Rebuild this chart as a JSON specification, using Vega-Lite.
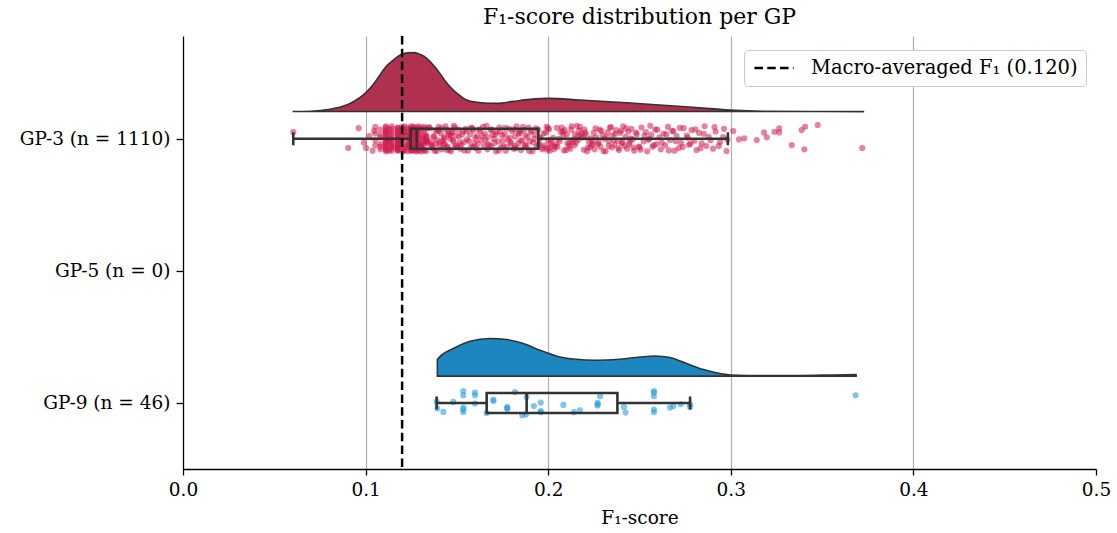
{
"$schema": "https://vega.github.io/schema/vega-lite/v6.json",
"width": 913, "height": 433,
"autosize": {"type": "none"},
"padding": {"left": 183, "top": 36, "right": 21, "bottom": 64},
"config": {"font": "DejaVu Serif", "view": {"stroke": null},
 "axis": {"labelFont": "DejaVu Serif", "titleFont": "DejaVu Serif", "labelColor": "#000000", "titleColor": "#000000", "domainColor": "#000000", "tickColor": "#000000", "labelFontSize": 18.5, "titleFontSize": 18.5, "titleFontWeight": "normal", "domainWidth": 1.3, "tickWidth": 1.3, "labelLimit": 400},
 "legend": {"labelFont": "DejaVu Serif"}},
"title": {"text": "F₁-score distribution per GP", "font": "DejaVu Serif", "fontSize": 22, "fontWeight": "normal", "color": "#000000", "anchor": "middle", "offset": 6},
"datasets": {
"c3": [{"f":0.0600,"t":-0.206},{"f":0.0700,"t":-0.208},{"f":0.0805,"t":-0.223},{"f":0.0850,"t":-0.236},{"f":0.0896,"t":-0.255},{"f":0.0940,"t":-0.286},{"f":0.0986,"t":-0.331},{"f":0.1040,"t":-0.407},{"f":0.1079,"t":-0.483},{"f":0.1110,"t":-0.543},{"f":0.1152,"t":-0.596},{"f":0.1199,"t":-0.639},{"f":0.1230,"t":-0.650},{"f":0.1267,"t":-0.652},{"f":0.1300,"t":-0.638},{"f":0.1335,"t":-0.609},{"f":0.1370,"t":-0.558},{"f":0.1407,"t":-0.495},{"f":0.1440,"t":-0.430},{"f":0.1480,"t":-0.369},{"f":0.1520,"t":-0.323},{"f":0.1553,"t":-0.293},{"f":0.1600,"t":-0.278},{"f":0.1650,"t":-0.271},{"f":0.1718,"t":-0.268},{"f":0.1809,"t":-0.283},{"f":0.1900,"t":-0.298},{"f":0.2003,"t":-0.306},{"f":0.2174,"t":-0.293},{"f":0.2430,"t":-0.273},{"f":0.2795,"t":-0.238},{"f":0.2996,"t":-0.217},{"f":0.3200,"t":-0.208},{"f":0.3500,"t":-0.206},{"f":0.3726,"t":-0.205}],
"c9": [{"f":0.1393,"t":1.797},{"f":0.1393,"t":1.671},{"f":0.1480,"t":1.588},{"f":0.1572,"t":1.533},{"f":0.1681,"t":1.512},{"f":0.1773,"t":1.520},{"f":0.1864,"t":1.550},{"f":0.1955,"t":1.601},{"f":0.2047,"t":1.646},{"f":0.2138,"t":1.667},{"f":0.2266,"t":1.677},{"f":0.2393,"t":1.669},{"f":0.2503,"t":1.652},{"f":0.2585,"t":1.644},{"f":0.2667,"t":1.656},{"f":0.2758,"t":1.702},{"f":0.2850,"t":1.747},{"f":0.2941,"t":1.777},{"f":0.3000,"t":1.788},{"f":0.3196,"t":1.792},{"f":0.3379,"t":1.792},{"f":0.3560,"t":1.788},{"f":0.3686,"t":1.785}],
"box": [{"g":"GP-3","c":0,"lo":0.0604,"q1":0.1247,"med":0.1280,"q3":0.1946,"hi":0.2984},{"g":"GP-9","c":2,"lo":0.1389,"q1":0.1663,"med":0.1882,"q3":0.2379,"hi":0.2777}],
"p9": [{"f":0.1393,"y":2.042},{"f":0.1426,"y":2.068},{"f":0.1480,"y":1.992},{"f":0.1535,"y":1.911},{"f":0.1535,"y":1.942},{"f":0.1535,"y":2.035},{"f":0.1535,"y":2.068},{"f":0.1599,"y":1.921},{"f":0.1599,"y":1.942},{"f":0.1599,"y":2.005},{"f":0.1663,"y":2.076},{"f":0.1700,"y":1.974},{"f":0.1700,"y":1.985},{"f":0.1776,"y":2.030},{"f":0.1776,"y":2.045},{"f":0.1818,"y":1.917},{"f":0.1858,"y":2.093},{"f":0.1882,"y":1.955},{"f":0.1878,"y":2.088},{"f":0.1922,"y":2.023},{"f":0.1959,"y":1.997},{"f":0.1959,"y":2.061},{"f":0.2083,"y":2.015},{"f":0.2141,"y":2.070},{"f":0.2174,"y":2.055},{"f":0.2271,"y":2.000},{"f":0.2271,"y":2.010},{"f":0.2284,"y":1.949},{"f":0.2415,"y":2.030},{"f":0.2424,"y":2.073},{"f":0.2579,"y":1.911},{"f":0.2579,"y":1.921},{"f":0.2579,"y":1.949},{"f":0.2579,"y":2.050},{"f":0.2579,"y":2.070},{"f":0.2667,"y":2.035},{"f":0.2685,"y":2.025},{"f":0.2726,"y":2.010},{"f":0.2777,"y":2.010},{"f":0.3684,"y":1.942},{"f":0.1389,"y":1.990},{"f":0.1535,"y":2.050},{"f":0.1776,"y":2.040},{"f":0.1959,"y":2.070},{"f":0.2270,"y":2.020},{"f":0.2777,"y":2.030}],
"p3": [{"f":0.0604,"y":-0.05},{"f":0.0905,"y":0.07},
{"f":0.0962,"y":-0.08},{"f":0.0991,"y":0.03},{"f":0.1003,"y":0.07},{"f":0.1020,"y":-0.02},{"f":0.1038,"y":0.09},{"f":0.1047,"y":-0.06},
{"f":0.1053,"y":0.01},{"f":0.1053,"y":-0.09},{"f":0.1053,"y":0.05},{"f":0.1053,"y":-0.04},
{"f":0.1081,"y":0.08},{"f":0.1081,"y":-0.01},{"f":0.1081,"y":0.04},{"f":0.1081,"y":-0.07},{"f":0.1081,"y":0.06},{"f":0.1081,"y":-0.03},
{"f":0.1111,"y":0.0},{"f":0.1111,"y":0.095},{"f":0.1111,"y":-0.05},{"f":0.1111,"y":0.02},{"f":0.1111,"y":-0.085},{"f":0.1111,"y":0.065},{"f":0.1111,"y":-0.025},{"f":0.1111,"y":0.045},{"f":0.1111,"y":-0.065},{"f":0.1111,"y":0.015},{"f":0.1111,"y":0.085},{"f":0.1111,"y":-0.045},{"f":0.1111,"y":0.035},{"f":0.1111,"y":-0.095},{"f":0.1111,"y":0.055},{"f":0.1111,"y":-0.015},{"f":0.1111,"y":0.075},{"f":0.1111,"y":-0.055},
{"f":0.1128,"y":0.025},{"f":0.1128,"y":-0.075},{"f":0.1128,"y":0.005},{"f":0.1128,"y":0.09},{"f":0.1128,"y":-0.035},
{"f":0.1143,"y":0.06},{"f":0.1143,"y":-0.035},{"f":0.1143,"y":0.09},{"f":0.1143,"y":0.005},{"f":0.1143,"y":-0.075},{"f":0.1143,"y":0.025},{"f":0.1143,"y":-0.055},{"f":0.1143,"y":0.075},{"f":0.1143,"y":-0.015},{"f":0.1143,"y":0.055},{"f":0.1143,"y":-0.095},{"f":0.1143,"y":0.035},
{"f":0.1176,"y":-0.08},{"f":0.1176,"y":0.07},{"f":0.1176,"y":0.09},{"f":0.1176,"y":0.01},{"f":0.1176,"y":0.05},{"f":0.1176,"y":0.08},{"f":0.1176,"y":0.04},{"f":0.1176,"y":0.06},{"f":0.1176,"y":0.0},{"f":0.1176,"y":-0.05},{"f":0.1176,"y":-0.085},{"f":0.1176,"y":-0.025},{"f":0.1176,"y":-0.065},{"f":0.1176,"y":0.085},{"f":0.1176,"y":0.035},{"f":0.1176,"y":0.055},{"f":0.1176,"y":0.075},{"f":0.1176,"y":0.025},{"f":0.1176,"y":0.005},{"f":0.1176,"y":-0.035},{"f":0.1176,"y":-0.02},{"f":0.1176,"y":-0.06},
{"f":0.1200,"y":-0.09},{"f":0.1200,"y":-0.04},{"f":0.1200,"y":-0.01},{"f":0.1200,"y":-0.07},{"f":0.1200,"y":-0.03},{"f":0.1200,"y":0.095},{"f":0.1200,"y":0.02},{"f":0.1200,"y":0.065},{"f":0.1200,"y":0.045},{"f":0.1200,"y":0.015},
{"f":0.1212,"y":-0.045},{"f":0.1212,"y":-0.095},{"f":0.1212,"y":-0.015},{"f":0.1212,"y":-0.055},{"f":0.1212,"y":-0.075},{"f":0.1212,"y":0.09},{"f":0.1212,"y":0.06},{"f":0.1212,"y":0.085},
{"f":0.1233,"y":0.04},{"f":0.1233,"y":-0.07},{"f":0.1233,"y":0.06},{"f":0.1233,"y":-0.03},{"f":0.1233,"y":0.0},{"f":0.1233,"y":0.095},{"f":0.1233,"y":-0.05},{"f":0.1233,"y":0.02},{"f":0.1233,"y":-0.085},{"f":0.1233,"y":0.065},{"f":0.1233,"y":-0.025},{"f":0.1233,"y":0.045},
{"f":0.1250,"y":-0.025},{"f":0.1250,"y":0.045},{"f":0.1250,"y":-0.065},{"f":0.1250,"y":0.015},{"f":0.1250,"y":0.085},{"f":0.1250,"y":-0.045},{"f":0.1250,"y":0.035},{"f":0.1250,"y":-0.095},{"f":0.1250,"y":0.055},{"f":0.1250,"y":-0.015},{"f":0.1250,"y":0.075},{"f":0.1250,"y":-0.055},{"f":0.1250,"y":0.025},{"f":0.1250,"y":-0.075},{"f":0.1250,"y":0.005},{"f":0.1250,"y":0.09},{"f":0.1250,"y":-0.035},{"f":0.1250,"y":0.06},
{"f":0.1262,"y":-0.04},{"f":0.1262,"y":0.05},{"f":0.1262,"y":-0.09},{"f":0.1262,"y":0.01},{"f":0.1262,"y":-0.06},{"f":0.1262,"y":0.09},{"f":0.1262,"y":-0.02},{"f":0.1262,"y":0.07},{"f":0.1262,"y":0.03},{"f":0.1262,"y":-0.08},
{"f":0.1277,"y":0.06},{"f":0.1277,"y":-0.03},{"f":0.1277,"y":0.0},{"f":0.1277,"y":0.095},{"f":0.1277,"y":-0.05},{"f":0.1277,"y":0.02},{"f":0.1277,"y":-0.085},{"f":0.1277,"y":0.065},{"f":0.1277,"y":-0.025},{"f":0.1277,"y":0.045},{"f":0.1277,"y":-0.065},{"f":0.1277,"y":0.015},{"f":0.1277,"y":0.085},{"f":0.1277,"y":-0.045},
{"f":0.1290,"y":0.035},{"f":0.1290,"y":-0.095},{"f":0.1290,"y":0.055},{"f":0.1290,"y":-0.015},{"f":0.1290,"y":0.075},{"f":0.1290,"y":-0.055},{"f":0.1290,"y":0.025},{"f":0.1290,"y":-0.075},{"f":0.1290,"y":0.005},{"f":0.1290,"y":0.09},{"f":0.1290,"y":-0.035},{"f":0.1290,"y":0.06},
{"f":0.1304,"y":0.07},{"f":0.1304,"y":-0.06},{"f":0.1304,"y":0.05},{"f":0.1304,"y":-0.01},{"f":0.1304,"y":0.06},{"f":0.1304,"y":0.095},{"f":0.1304,"y":-0.085},{"f":0.1304,"y":0.045},
{"f":0.1320,"y":0.03},{"f":0.1320,"y":0.09},{"f":0.1320,"y":-0.09},{"f":0.1320,"y":0.08},{"f":0.1320,"y":-0.07},{"f":0.1320,"y":0.0},{"f":0.1320,"y":0.02},{"f":0.1320,"y":-0.025},
{"f":0.1333,"y":0.015},{"f":0.1333,"y":0.035},{"f":0.1333,"y":-0.015},{"f":0.1333,"y":0.025},{"f":0.1333,"y":0.09},{"f":0.1333,"y":-0.08},{"f":0.1333,"y":-0.02},{"f":0.1333,"y":0.01},
{"f":0.1352,"y":-0.08},{"f":0.1361,"y":0.03},{"f":0.1368,"y":0.07},{"f":0.1375,"y":-0.02},{"f":0.1379,"y":0.09},{"f":0.1384,"y":-0.06},{"f":0.1392,"y":0.01},{"f":0.1400,"y":-0.09},{"f":0.1405,"y":0.05},{"f":0.1412,"y":-0.04},{"f":0.1418,"y":0.08},{"f":0.1429,"y":-0.01},{"f":0.1434,"y":0.04},{"f":0.1441,"y":-0.07},{"f":0.1449,"y":0.06},{"f":0.1455,"y":-0.03},{"f":0.1463,"y":0.0},{"f":0.1468,"y":0.095},{"f":0.1475,"y":-0.05},{"f":0.1481,"y":0.02},{"f":0.1488,"y":-0.085},{"f":0.1493,"y":0.065},{"f":0.1497,"y":-0.025},{"f":0.1358,"y":0.045},{"f":0.1396,"y":-0.065},{"f":0.1422,"y":0.015},{"f":0.1446,"y":0.085},{"f":0.1471,"y":-0.045},{"f":0.1386,"y":0.035},{"f":0.1438,"y":-0.095},
{"f":0.1503,"y":0.055},{"f":0.1512,"y":-0.015},{"f":0.1519,"y":0.075},{"f":0.1533,"y":-0.055},{"f":0.1537,"y":0.025},{"f":0.1548,"y":-0.075},{"f":0.1556,"y":0.005},{"f":0.1561,"y":0.09},{"f":0.1572,"y":-0.035},{"f":0.1579,"y":0.06},{"f":0.1584,"y":-0.08},{"f":0.1597,"y":0.03},{"f":0.1603,"y":0.07},{"f":0.1609,"y":-0.02},{"f":0.1618,"y":0.09},{"f":0.1626,"y":-0.06},{"f":0.1631,"y":0.01},{"f":0.1643,"y":-0.09},{"f":0.1648,"y":0.05},{"f":0.1652,"y":-0.04},{"f":0.1667,"y":0.08},{"f":0.1667,"y":-0.01},{"f":0.1671,"y":0.04},{"f":0.1684,"y":-0.07},{"f":0.1689,"y":0.06},{"f":0.1695,"y":-0.03},{"f":0.1702,"y":0.0},{"f":0.1714,"y":0.095},{"f":0.1719,"y":-0.05},{"f":0.1726,"y":0.02},{"f":0.1733,"y":-0.085},{"f":0.1741,"y":0.065},{"f":0.1748,"y":-0.025},{"f":0.1525,"y":0.045},{"f":0.1590,"y":-0.065},
{"f":0.1754,"y":0.06},{"f":0.1762,"y":-0.035},{"f":0.1768,"y":0.09},{"f":0.1779,"y":0.005},{"f":0.1786,"y":-0.075},{"f":0.1792,"y":0.025},{"f":0.1805,"y":-0.055},{"f":0.1811,"y":0.075},{"f":0.1818,"y":-0.015},{"f":0.1818,"y":0.055},{"f":0.1827,"y":-0.095},{"f":0.1836,"y":0.035},{"f":0.1842,"y":-0.045},{"f":0.1851,"y":0.085},{"f":0.1858,"y":0.015},{"f":0.1867,"y":-0.065},{"f":0.1875,"y":0.045},{"f":0.1875,"y":-0.025},{"f":0.1883,"y":0.065},{"f":0.1892,"y":-0.085},{"f":0.1899,"y":0.02},{"f":0.1905,"y":-0.05},{"f":0.1914,"y":0.095},{"f":0.1923,"y":0.0},{"f":0.1929,"y":-0.03},{"f":0.1936,"y":0.06},{"f":0.1944,"y":-0.07},{"f":0.1951,"y":0.04},{"f":0.1958,"y":-0.01},{"f":0.1967,"y":0.08},{"f":0.1975,"y":-0.04},{"f":0.1982,"y":0.05},{"f":0.1991,"y":-0.09},{"f":0.1998,"y":0.01},{"f":0.1846,"y":-0.06},
{"f":0.2000,"y":-0.08},{"f":0.2000,"y":0.07},{"f":0.2008,"y":0.09},{"f":0.2017,"y":0.01},{"f":0.2023,"y":0.05},{"f":0.2031,"y":0.08},{"f":0.2044,"y":0.04},{"f":0.2051,"y":0.06},{"f":0.2058,"y":0.0},{"f":0.2069,"y":-0.05},{"f":0.2074,"y":-0.085},{"f":0.2083,"y":-0.025},{"f":0.2091,"y":-0.065},{"f":0.2098,"y":0.085},{"f":0.2105,"y":0.035},{"f":0.2114,"y":0.055},{"f":0.2121,"y":0.075},{"f":0.2133,"y":0.025},{"f":0.2139,"y":0.005},{"f":0.2146,"y":-0.035},{"f":0.2152,"y":0.03},{"f":0.2162,"y":-0.02},{"f":0.2169,"y":-0.06},{"f":0.2174,"y":-0.09},{"f":0.2183,"y":-0.04},{"f":0.2191,"y":-0.01},{"f":0.2198,"y":-0.07},{"f":0.2206,"y":-0.03},{"f":0.2213,"y":0.095},{"f":0.2222,"y":0.02},{"f":0.2229,"y":0.065},{"f":0.2237,"y":0.045},{"f":0.2243,"y":0.015},{"f":0.2249,"y":-0.045},{"f":0.2128,"y":-0.095},
{"f":0.2254,"y":0.08},{"f":0.2262,"y":-0.01},{"f":0.2273,"y":0.04},{"f":0.2281,"y":-0.07},{"f":0.2286,"y":0.06},{"f":0.2297,"y":-0.03},{"f":0.2308,"y":0.0},{"f":0.2315,"y":0.095},{"f":0.2326,"y":-0.05},{"f":0.2333,"y":0.02},{"f":0.2338,"y":-0.085},{"f":0.2349,"y":0.065},{"f":0.2353,"y":-0.025},{"f":0.2364,"y":0.045},{"f":0.2372,"y":-0.065},{"f":0.2381,"y":0.015},{"f":0.2388,"y":0.085},{"f":0.2395,"y":-0.045},{"f":0.2403,"y":0.035},{"f":0.2411,"y":-0.095},{"f":0.2418,"y":0.055},{"f":0.2424,"y":-0.015},{"f":0.2432,"y":0.075},{"f":0.2439,"y":-0.055},{"f":0.2447,"y":0.025},{"f":0.2456,"y":-0.075},{"f":0.2462,"y":0.005},{"f":0.2471,"y":0.09},{"f":0.2485,"y":-0.035},{"f":0.2497,"y":0.06},
{"f":0.2500,"y":0.065},{"f":0.2511,"y":-0.085},{"f":0.2522,"y":0.02},{"f":0.2535,"y":-0.05},{"f":0.2542,"y":0.095},{"f":0.2553,"y":0.0},{"f":0.2564,"y":-0.03},{"f":0.2571,"y":0.06},{"f":0.2586,"y":-0.07},{"f":0.2593,"y":0.04},{"f":0.2609,"y":-0.01},{"f":0.2617,"y":0.08},{"f":0.2632,"y":-0.04},{"f":0.2641,"y":0.05},{"f":0.2656,"y":-0.09},{"f":0.2667,"y":0.01},{"f":0.2679,"y":-0.06},{"f":0.2692,"y":0.09},{"f":0.2703,"y":-0.02},{"f":0.2716,"y":0.07},{"f":0.2727,"y":0.03},{"f":0.2742,"y":-0.08},
{"f":0.2759,"y":-0.025},{"f":0.2771,"y":0.045},{"f":0.2785,"y":-0.065},{"f":0.2800,"y":0.015},{"f":0.2812,"y":0.085},{"f":0.2826,"y":-0.045},{"f":0.2841,"y":0.035},{"f":0.2857,"y":-0.095},{"f":0.2866,"y":0.055},{"f":0.2879,"y":-0.015},{"f":0.2903,"y":0.075},{"f":0.2917,"y":-0.055},{"f":0.2941,"y":0.025},{"f":0.2963,"y":-0.075},{"f":0.2981,"y":0.005},
{"f":0.3014,"y":-0.058},{"f":0.3045,"y":0.005},{"f":0.3074,"y":-0.003},{"f":0.3142,"y":0.01},{"f":0.3182,"y":-0.048},{"f":0.3197,"y":-0.011},{"f":0.3239,"y":-0.053},{"f":0.3265,"y":-0.079},{"f":0.3265,"y":-0.048},{"f":0.3334,"y":0.048},{"f":0.3388,"y":-0.066},{"f":0.3407,"y":-0.091},{"f":0.3403,"y":0.080},{"f":0.3476,"y":-0.104},{"f":0.3720,"y":0.070},
{"f":0.1309,"y":0.072},{"f":0.1326,"y":-0.038},{"f":0.1341,"y":0.011},{"f":0.1347,"y":-0.088},{"f":0.1365,"y":0.054},{"f":0.1371,"y":-0.012},{"f":0.1389,"y":0.093},{"f":0.1398,"y":-0.061},{"f":0.1409,"y":0.027},{"f":0.1415,"y":-0.079},{"f":0.1427,"y":0.041},{"f":0.1432,"y":-0.004},{"f":0.1444,"y":0.066},{"f":0.1452,"y":-0.047},{"f":0.1459,"y":0.083},{"f":0.1466,"y":-0.022},{"f":0.1478,"y":0.008},{"f":0.1484,"y":-0.098},{"f":0.1491,"y":0.049},{"f":0.1506,"y":-0.069},{"f":0.1515,"y":0.031},{"f":0.1528,"y":-0.033},{"f":0.1541,"y":0.088},{"f":0.1552,"y":-0.057},{"f":0.1566,"y":0.018},{"f":0.1577,"y":-0.083},{"f":0.1588,"y":0.061},{"f":0.1601,"y":-0.008},{"f":0.1614,"y":0.037},{"f":0.1622,"y":-0.072},
{"f":0.1638,"y":-0.022},{"f":0.1655,"y":0.008},{"f":0.1662,"y":-0.098},{"f":0.1677,"y":0.049},{"f":0.1691,"y":-0.069},{"f":0.1706,"y":0.031},{"f":0.1711,"y":-0.033},{"f":0.1729,"y":0.088},{"f":0.1737,"y":-0.057},{"f":0.1752,"y":0.018},{"f":0.1765,"y":-0.083},{"f":0.1773,"y":0.061},{"f":0.1789,"y":-0.008},{"f":0.1798,"y":0.037},{"f":0.1814,"y":-0.072},{"f":0.1823,"y":0.072},{"f":0.1839,"y":-0.038},{"f":0.1848,"y":0.011},{"f":0.1862,"y":-0.088},{"f":0.1871,"y":0.054},{"f":0.1887,"y":-0.012},{"f":0.1896,"y":0.093},{"f":0.1909,"y":-0.061},{"f":0.1918,"y":0.027},{"f":0.1933,"y":-0.079},{"f":0.1947,"y":0.041},{"f":0.1955,"y":-0.004},{"f":0.1971,"y":0.066},{"f":0.1986,"y":-0.047},{"f":0.1994,"y":0.083},
{"f":0.2004,"y":-0.072},{"f":0.2013,"y":0.037},{"f":0.2027,"y":-0.008},{"f":0.2038,"y":0.061},{"f":0.2047,"y":-0.083},{"f":0.2063,"y":0.018},{"f":0.2079,"y":-0.057},{"f":0.2087,"y":0.088},{"f":0.2102,"y":-0.033},{"f":0.2117,"y":0.031},{"f":0.2126,"y":-0.069},{"f":0.2143,"y":0.049},{"f":0.2157,"y":-0.098},{"f":0.2166,"y":0.008},{"f":0.2178,"y":-0.022},{"f":0.2195,"y":0.083},{"f":0.2203,"y":-0.047},{"f":0.2218,"y":0.066},{"f":0.2233,"y":-0.004},{"f":0.2246,"y":0.041},{"f":0.2259,"y":-0.079},{"f":0.2277,"y":0.027},{"f":0.2291,"y":-0.061},{"f":0.2303,"y":0.093},{"f":0.2319,"y":-0.012},{"f":0.2331,"y":0.054},{"f":0.2344,"y":-0.088},{"f":0.2359,"y":0.011},{"f":0.2368,"y":-0.038},{"f":0.2384,"y":0.072},
{"f":0.2399,"y":-0.061},{"f":0.2408,"y":0.027},{"f":0.2427,"y":-0.079},{"f":0.2443,"y":0.041},{"f":0.2452,"y":-0.004},{"f":0.2467,"y":0.066},{"f":0.2481,"y":-0.047},{"f":0.2506,"y":0.083},{"f":0.2527,"y":-0.022},{"f":0.2548,"y":0.008},{"f":0.2559,"y":-0.098},{"f":0.2578,"y":0.049},{"f":0.2598,"y":-0.069},{"f":0.2622,"y":0.031},{"f":0.2647,"y":-0.033},{"f":0.2661,"y":0.088},{"f":0.2686,"y":-0.057},{"f":0.2698,"y":0.018},{"f":0.2721,"y":-0.083},{"f":0.2737,"y":0.061},{"f":0.2764,"y":-0.008},{"f":0.2779,"y":0.037},{"f":0.2806,"y":-0.072},{"f":0.2834,"y":0.072},{"f":0.2852,"y":-0.038},{"f":0.2889,"y":0.011},{"f":0.2911,"y":-0.088},{"f":0.2934,"y":0.054},{"f":0.2958,"y":-0.012},{"f":0.2977,"y":0.093}]
},
"layer": [
{"data": {"name": "c3"}, "mark": {"type": "area", "color": "#b03050", "stroke": "#333333", "strokeWidth": 1.6, "interpolate": "monotone", "opacity": 1},
 "encoding": {
  "x": {"field": "f", "type": "quantitative", "title": "F₁-score", "scale": {"domain": [0, 0.5], "nice": false, "zero": false, "padding": 0}, "axis": {"values": [0, 0.1, 0.2, 0.3, 0.4, 0.5], "format": ".1f", "grid": true, "gridColor": "#b0b0b0", "gridWidth": 1.2, "gridOpacity": {"condition": {"test": "datum.value > 0.001 && datum.value < 0.499", "value": 1}, "value": 0}, "tickSize": 6, "labelPadding": 5, "titlePadding": 10, "labelFlush": false}},
  "y": {"field": "t", "type": "quantitative", "title": null, "scale": {"domain": [-0.778, 2.5], "reverse": true, "nice": false, "zero": false, "padding": 0}, "axis": {"values": [0, 1, 2], "grid": false, "tickSize": 7, "labelPadding": 6, "labelExpr": "datum.value == 0 ? 'GP-3 (n = 1110)' : datum.value == 1 ? 'GP-5 (n = 0)' : 'GP-9 (n = 46)'"}},
  "y2": {"datum": -0.206}}},
{"data": {"name": "c9"}, "mark": {"type": "area", "color": "#1c87bf", "stroke": "#333333", "strokeWidth": 1.6, "interpolate": "monotone", "opacity": 1},
 "encoding": {
  "x": {"field": "f", "type": "quantitative", "title": "F₁-score"},
  "y": {"field": "t", "type": "quantitative", "title": null},
  "y2": {"datum": 1.797}}},
{"data": {"name": "p3"}, "mark": {"type": "circle", "color": "#d01c4e", "opacity": 0.55, "size": 38},
 "encoding": {"x": {"field": "f", "type": "quantitative", "title": "F₁-score"}, "y": {"field": "y", "type": "quantitative", "title": null}}},
{"data": {"name": "p9"}, "mark": {"type": "circle", "color": "#2b9fe0", "opacity": 0.6, "size": 38},
 "encoding": {"x": {"field": "f", "type": "quantitative", "title": "F₁-score"}, "y": {"field": "y", "type": "quantitative", "title": null}}},
{"data": {"name": "box"}, "mark": {"type": "rule", "color": "#333333", "strokeWidth": 2.6},
 "encoding": {"x": {"field": "lo", "type": "quantitative", "title": "F₁-score"}, "x2": {"field": "q1"}, "y": {"field": "c", "type": "quantitative", "title": null}}},
{"data": {"name": "box"}, "mark": {"type": "rule", "color": "#333333", "strokeWidth": 2.6},
 "encoding": {"x": {"field": "q3", "type": "quantitative", "title": "F₁-score"}, "x2": {"field": "hi"}, "y": {"field": "c", "type": "quantitative", "title": null}}},
{"data": {"name": "box"}, "mark": {"type": "bar", "height": 20, "fill": "#ffffff", "fillOpacity": 0, "stroke": "#333333", "strokeWidth": 2.6},
 "encoding": {"x": {"field": "q1", "type": "quantitative", "title": "F₁-score"}, "x2": {"field": "q3"}, "y": {"field": "c", "type": "quantitative", "title": null}}},
{"data": {"name": "box"}, "mark": {"type": "tick", "orient": "vertical", "color": "#333333", "size": 20, "thickness": 2.6, "opacity": 1},
 "encoding": {"x": {"field": "med", "type": "quantitative", "title": "F₁-score"}, "y": {"field": "c", "type": "quantitative", "title": null}}},
{"data": {"name": "box"}, "mark": {"type": "tick", "orient": "vertical", "color": "#333333", "size": 13, "thickness": 2.6, "opacity": 1},
 "encoding": {"x": {"field": "lo", "type": "quantitative", "title": "F₁-score"}, "y": {"field": "c", "type": "quantitative", "title": null}}},
{"data": {"name": "box"}, "mark": {"type": "tick", "orient": "vertical", "color": "#333333", "size": 13, "thickness": 2.6, "opacity": 1},
 "encoding": {"x": {"field": "hi", "type": "quantitative", "title": "F₁-score"}, "y": {"field": "c", "type": "quantitative", "title": null}}},
{"data": {"values": [{"v": 0.12}]}, "mark": {"type": "rule", "color": "#000000", "strokeWidth": 2.5},
 "encoding": {"x": {"field": "v", "type": "quantitative", "title": "F₁-score"},
  "strokeDash": {"datum": "Macro-averaged F₁ (0.120)", "type": "nominal", "scale": {"range": [[8.5, 4.3]]},
   "legend": {"title": null, "orient": "none", "legendX": 561, "legendY": 14, "symbolType": "M-2.3,0H2.3", "symbolSize": 289, "symbolOffset": 12, "symbolStrokeWidth": 2.5, "symbolStrokeColor": "#000000", "labelFontSize": 19.5, "labelColor": "#000000", "labelLimit": 500, "labelOffset": 27, "fillColor": "#ffffff", "strokeColor": "#cccccc", "cornerRadius": 4, "padding": 8}}}}
]
}
